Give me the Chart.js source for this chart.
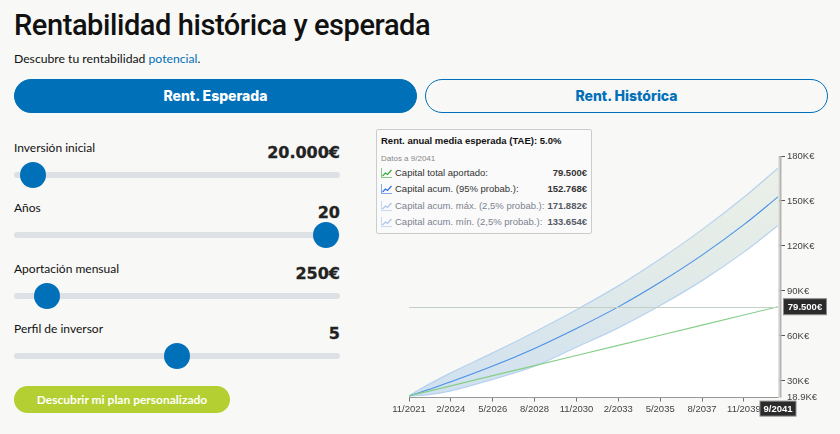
<!DOCTYPE html>
<html>
<head>
<meta charset="utf-8">
<script src="https://cdn.jsdelivr.net/npm/chart.js@4"></script>
<style>
  html, body { margin: 0; padding: 0; width: 840px; height: 434px; overflow: hidden; background: #f8f8f6; color: #111; font-family: Lato, sans-serif; }
  .abs { position: absolute; white-space: nowrap; }
  h1 { margin: 0; left: 14px; top: 6px; font: 500 29px/38px Roboto, sans-serif; letter-spacing: -0.42px; }
  .sub { left: 14px; top: 50px; font-size: 12.2px; line-height: 17px; }
  .sub span { color: #0070b8; }
  .tab { top: 79px; height: 34px; width: 403px; box-sizing: border-box; border-radius: 17px; border: 1px solid #0070b8; text-align: center; font: 800 14px/32px Inter, sans-serif; }
  #tab1 { left: 14px; background: #0070b8; color: #fff; }
  #tab2 { left: 425px; color: #0070b8; }
  .lbl { left: 14px; font-size: 12px; line-height: 16px; }
  .val { right: 500px; font: 700 16px/20px "DejaVu Sans", sans-serif; color: #222; -webkit-text-stroke: 0.3px #222; }
  .track { left: 14px; width: 326px; height: 6px; border-radius: 3px; background: #dde1e6; }
  .thumb { width: 26px; height: 26px; border-radius: 50%; background: #0070b8; }
  #cta { left: 14px; top: 386px; width: 216px; height: 27px; border-radius: 14px; background: #b3cf31; color: #fff; text-align: center; font: 700 12px/27px Lato, sans-serif; }
  #chartBox { position: absolute; left: 380px; top: 140px; width: 460px; height: 294px; }
  #info { left: 376px; top: 129px; width: 216px; height: 105px; box-sizing: border-box; background: #fafafa; border: 1px solid #ccc; border-radius: 2px; font-family: "Liberation Sans", sans-serif; color: #333; }
  #info .t { left: 4px; top: 5px; font-weight: 700; font-size: 9.5px; color: #111; }
  #info .d { left: 4px; top: 24px; font-size: 8px; color: #888; }
  #info .r { left: 18px; font-size: 9.5px; }
  #info .v { right: 4px; font-size: 9.5px; font-weight: 700; }
  #info svg { position: absolute; left: 4px; }
  .r.faded { color: #7c8290; }
  .v.faded { color: #555b66; }
</style>
</head>
<body>
<h1 class="abs">Rentabilidad histórica y esperada</h1>
<div class="abs sub">Descubre tu rentabilidad <span>potencial</span>.</div>
<div class="abs tab" id="tab1">Rent. Esperada</div>
<div class="abs tab" id="tab2">Rent. Histórica</div>
<div id="sliders"></div>
<div class="abs" id="cta">Descubrir mi plan personalizado</div>
<div id="chartBox"><canvas id="rentChart"></canvas></div>
<div class="abs" id="info">
  <div class="abs t">Rent. anual media esperada (TAE): 5.0%</div>
  <div class="abs d">Datos a 9/2041</div>
  <div id="rows"></div>
</div>
<script>
// months since 11/2021 for every plotted point
const months = [0, 6, 13, 27, 54, 81, 108, 135, 162, 189, 216, 238];
// values in K€
const totalContributed = [20, 21.5, 23.25, 26.75, 33.5, 40.25, 47, 53.75, 60.5, 67.25, 74, 79.5];
const expected = [20, 22, 24.4, 29.4, 39.9, 51.7, 65, 79.4, 95.8, 113.9, 134.2, 152.768];
const maxCapital = [20, 23.8, 27.9, 35.4, 48.7, 62.7, 77.5, 93.4, 111.3, 130.9, 152.5, 171.882];
const minCapital = [20, 20.3, 20.9, 23.4, 31.1, 39.9, 52.5, 65.4, 80.3, 96.9, 115.9, 133.654];

const xTickMonths = [0, 27, 54, 81, 108, 135, 162, 189, 216];
const xTickLabels = ['11/2021', '2/2024', '5/2026', '8/2028', '11/2030', '2/2033', '5/2035', '8/2037', '11/2039'];
const yTicks = [18.9, 30, 60, 90, 120, 150, 180];
const yTickLabels = ['18.9K€', '30K€', '60K€', '90K€', '120K€', '150K€', '180K€'];

const lastLabel = '9/2041';
const lastTotalLabel = '79.500€';

const sliderRows = [
  { name: 'Inversión inicial', value: '20.000€', thumb: 33, top: 140 },
  { name: 'Años', value: '20', thumb: 326, top: 200 },
  { name: 'Aportación mensual', value: '250€', thumb: 47, top: 261 },
  { name: 'Perfil de inversor', value: '5', thumb: 177, top: 321 }
];
const legendRows = [
  { name: 'Capital total aportado:', value: '79.500€', color: '#3aa93a', faded: false },
  { name: 'Capital acum. (95% probab.):', value: '152.768€', color: '#2f6fe0', faded: false },
  { name: 'Capital acum. máx. (2,5% probab.):', value: '171.882€', color: '#a9c4ea', faded: true },
  { name: 'Capital acum. mín. (2,5% probab.):', value: '133.654€', color: '#a9c4ea', faded: true }
];

let sliderHtml = '';
sliderRows.forEach(function(s) {
  sliderHtml += '<div class="abs lbl" style="top:' + s.top + 'px">' + s.name + '</div>';
  sliderHtml += '<div class="abs val" style="top:' + (s.top + 3) + 'px">' + s.value + '</div>';
  sliderHtml += '<div class="abs track" style="top:' + (s.top + 32) + 'px"></div>';
  sliderHtml += '<div class="abs thumb" style="left:' + (s.thumb - 13) + 'px;top:' + (s.top + 22) + 'px"></div>';
});
document.getElementById('sliders').innerHTML = sliderHtml;

let rowHtml = '';
legendRows.forEach(function(r, i) {
  const top = 37 + i * 16.3;
  rowHtml += '<svg width="11" height="10" style="top:' + (top + 1) + 'px"><path d="M0.5 0V9.5H11" fill="none" stroke="' + r.color + '" stroke-opacity=".6"/><path d="M1.5 8L4.5 5L6.5 6.5L10.5 2" fill="none" stroke="' + r.color + '" stroke-width="1.2"/></svg>';
  rowHtml += '<div class="abs r' + (r.faded ? ' faded' : '') + '" style="top:' + top + 'px">' + r.name + '</div>';
  rowHtml += '<div class="abs v' + (r.faded ? ' faded' : '') + '" style="top:' + top + 'px">' + r.value + '</div>';
});
document.getElementById('rows').innerHTML = rowHtml;

function pts(values) {
  return values.map(function(v, i) { return { x: months[i], y: v }; });
}

// price line, thick right axis and the two dark axis labels
const extrasPlugin = {
  id: 'extras',
  afterDatasetsDraw(chart) {
    const { ctx, chartArea, scales } = chart;
    const yTotal = scales.y.getPixelForValue(totalContributed[totalContributed.length - 1]);
    ctx.save();
    ctx.strokeStyle = '#c4cfc6';
    ctx.lineWidth = 1;
    ctx.beginPath();
    ctx.moveTo(chartArea.left, Math.round(yTotal) + 0.5);
    ctx.lineTo(chartArea.right, Math.round(yTotal) + 0.5);
    ctx.stroke();
    ctx.restore();
  },
  afterDraw(chart) {
    const { ctx, chartArea, scales } = chart;
    const yTotal = scales.y.getPixelForValue(totalContributed[totalContributed.length - 1]);
    const xEnd = scales.x.getPixelForValue(months[months.length - 1]);
    ctx.save();
    ctx.fillStyle = '#e2e2e0';
    ctx.fillRect(chartArea.right, chartArea.top, 1.5, chartArea.bottom - chartArea.top);
    ctx.fillStyle = '#b4b4b4';
    ctx.fillRect(chartArea.right + 1.5, chartArea.top, 2, chartArea.bottom - chartArea.top);
    ctx.font = 'bold 9.5px "Liberation Sans", sans-serif';
    ctx.textAlign = 'center';
    ctx.textBaseline = 'middle';
    function box(cx, cy, w, h, text) {
      ctx.fillStyle = '#2b2b2b';
      ctx.strokeStyle = '#8a8a8a';
      ctx.lineWidth = 1;
      ctx.fillRect(cx - w / 2, cy - h / 2, w, h);
      ctx.strokeRect(cx - w / 2, cy - h / 2, w, h);
      ctx.fillStyle = '#fff';
      ctx.fillText(text, cx, cy + 0.5);
    }
    box(xEnd + 27, yTotal, 43, 16, lastTotalLabel);
    box(xEnd, chartArea.bottom + 11, 36, 15, lastLabel);
    ctx.restore();
  }
};

const ctx = document.getElementById('rentChart').getContext('2d');
const bandFill = ctx.createLinearGradient(0, 28, 0, 258);
bandFill.addColorStop(0, '#ebf0e8');
bandFill.addColorStop(0.45, '#e2ebe8');
bandFill.addColorStop(1, '#cfe0f0');

new Chart(ctx, {
  type: 'line',
  plugins: [extrasPlugin],
  data: {
    datasets: [
      { label: 'Capital total aportado', data: pts(totalContributed), borderColor: '#86cf8a', borderWidth: 1.2, pointRadius: 0, fill: false, order: 1 },
      { label: 'Capital acum. (95% probab.)', data: pts(expected), borderColor: '#4a90e8', borderWidth: 1.1, pointRadius: 0, fill: false, cubicInterpolationMode: 'monotone', order: 2 },
      { label: 'Capital acum. máx.', data: pts(maxCapital), borderColor: '#b7d2ef', borderWidth: 1.2, pointRadius: 0, backgroundColor: bandFill, fill: '+1', cubicInterpolationMode: 'monotone', order: 4 },
      { label: 'Capital acum. mín.', data: pts(minCapital), borderColor: '#b7d2ef', borderWidth: 1.2, pointRadius: 0, backgroundColor: '#ffffff', fill: 'start', cubicInterpolationMode: 'monotone', order: 3 }
    ]
  },
  options: {
    responsive: true,
    maintainAspectRatio: false,
    animation: false,
    layout: { padding: { left: 29, top: 16, right: 0, bottom: 0 } },
    plugins: { legend: { display: false }, tooltip: { enabled: false } },
    scales: {
      x: {
        type: 'linear',
        min: 0,
        max: 238,
        afterBuildTicks: function(axis) { axis.ticks = xTickMonths.map(function(m) { return { value: m }; }); },
        afterFit: function(axis) { axis.height = 36.4; },
        grid: { display: true, drawOnChartArea: false, drawTicks: true, tickLength: 4, tickColor: '#777' },
        border: { color: '#8a8a8a', width: 1 },
        ticks: {
          autoSkip: false, maxRotation: 0, padding: 2, color: '#444',
          font: { family: '"Liberation Sans", sans-serif', size: 9.5 },
          callback: function(v) { return xTickLabels[xTickMonths.indexOf(v)]; }
        }
      },
      y: {
        position: 'right',
        min: 18.9,
        max: 180,
        afterBuildTicks: function(axis) { axis.ticks = yTicks.map(function(v) { return { value: v }; }); },
        afterFit: function(axis) { axis.width = 62; },
        grid: {
          display: true, drawOnChartArea: false, tickLength: 7,
          tickColor: function(c) { return c.index === 0 ? 'rgba(0,0,0,0)' : '#555'; }
        },
        border: { display: false },
        ticks: {
          autoSkip: false, padding: 2, color: '#444',
          font: { family: '"Liberation Sans", sans-serif', size: 9.5 },
          callback: function(v) { return yTickLabels[yTicks.indexOf(v)]; }
        }
      }
    }
  }
});
</script>
</body>
</html>
